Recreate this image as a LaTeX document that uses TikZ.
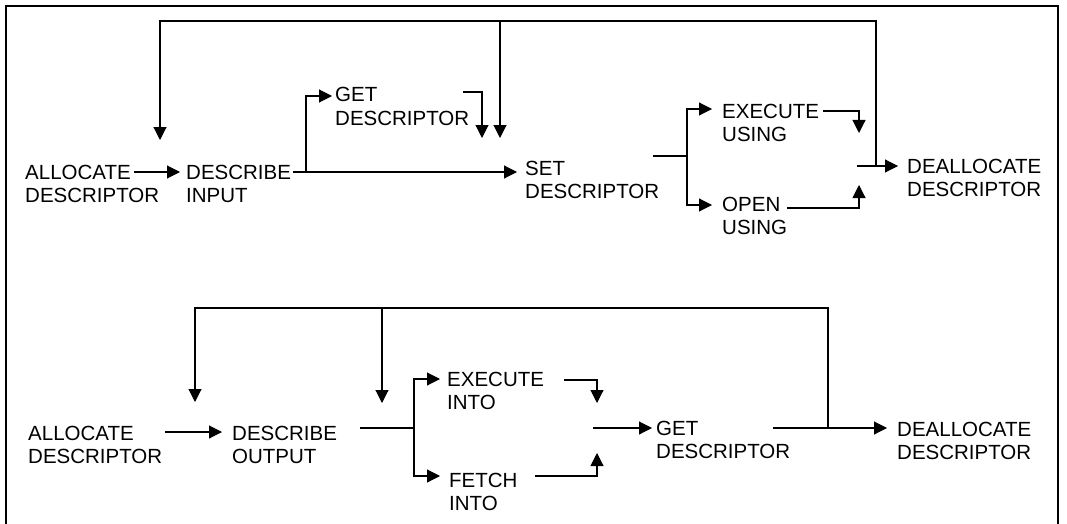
\documentclass[tikz,border=0pt]{standalone}
\usepackage{fontspec}
\setmainfont{Liberation Sans}
\usetikzlibrary{arrows.meta}
\newcommand{\twol}[2]{\begin{tabular}[t]{@{}l@{}}#1\\#2\end{tabular}}
\begin{document}
\begin{tikzpicture}[x=1pt,y=-1pt,
  lbl/.style={anchor=base west,inner sep=0pt,font=\fontsize{20.5}{23.5}\selectfont},
  conn/.style={line width=1.1pt},
  arr/.style={conn,-{Triangle[length=13pt,width=13pt]}},
  frame/.style={line width=1.4pt}]
\useasboundingbox (0,0) rectangle (1067,524);
\draw[frame] (6,524) -- (6,6) -- (1058,6) -- (1058,524);
% ---------- top flow ----------
\node[lbl] (alloc1)   at (25,179)  {\twol{ALLOCATE}{DESCRIPTOR}};
\node[lbl] (descin)   at (186,179) {\twol{DESCRIBE}{INPUT}};
\node[lbl] (getd1)    at (335,102) {\twol{GET}{DESCRIPTOR}};
\node[lbl] (setd)     at (525,175) {\twol{SET}{DESCRIPTOR}};
\node[lbl] (exu)      at (722,118) {\twol{EXECUTE}{USING}};
\node[lbl] (opu)      at (722,211) {\twol{OPEN}{USING}};
\node[lbl] (dealloc1) at (907,173) {\twol{DEALLOCATE}{DESCRIPTOR}};
\coordinate (tA) at (160,140);
\coordinate (tB) at (482,138);
\coordinate (tC) at (500,138);
\coordinate (tD) at (859,133);
\coordinate (tE) at (859,185);
\coordinate (jA) at (876,166);
\coordinate (jB) at (500,21);
\coordinate (jC) at (687,156);
\draw[arr] ([shift={(109,-7)}]alloc1.base west) -- ([shift={(-6,-7)}]descin.base west);
\draw[arr] ([shift={(107,-7)}]descin.base west) -- ([shift={(-8,-3)}]setd.base west);
\draw[arr] ([shift={(120,-7)}]descin.base west) |- ([shift={(-3,-6)}]getd1.base west);
\draw[arr] ([shift={(128,-10)}]getd1.base west) -| (tB);
\draw[arr] ([shift={(128,-19)}]setd.base west) -- (jC) |- ([shift={(-10,-9)}]exu.base west);
\draw[arr] (jC) |- ([shift={(-10,-6)}]opu.base west);
\draw[arr] ([shift={(101,-7)}]exu.base west) -| (tD);
\draw[arr] ([shift={(65,-3)}]opu.base west) -| (tE);
\draw[arr] ([shift={(-50,-7)}]dealloc1.base west) -- ([shift={(-9,-7)}]dealloc1.base west);
\draw[arr] (jA) |- (jB) -| (tA);
\draw[arr] (jB) -- (tC);
% ---------- bottom flow ----------
\node[lbl] (alloc2)   at (28,440)  {\twol{ALLOCATE}{DESCRIPTOR}};
\node[lbl] (descout)  at (232,440) {\twol{DESCRIBE}{OUTPUT}};
\node[lbl] (exi)      at (447,386) {\twol{EXECUTE}{INTO}};
\node[lbl] (fei)      at (449,487) {\twol{FETCH}{INTO}};
\node[lbl] (getd2)    at (656,435) {\twol{GET}{DESCRIPTOR}};
\node[lbl] (dealloc2) at (897,436) {\twol{DEALLOCATE}{DESCRIPTOR}};
\coordinate (tF) at (195,402);
\coordinate (tG) at (382,403);
\coordinate (tH) at (597,403);
\coordinate (tI) at (597,453);
\coordinate (jD) at (828,428);
\coordinate (jE) at (382,308);
\coordinate (jF) at (414,428);
\draw[arr] ([shift={(137,-8)}]alloc2.base west) -- ([shift={(-10,-8)}]descout.base west);
\draw[arr] ([shift={(128,-12)}]descout.base west) -- (jF) |- ([shift={(-7,-7)}]exi.base west);
\draw[arr] (jF) |- ([shift={(-9,-11)}]fei.base west);
\draw[arr] ([shift={(117,-6)}]exi.base west) -| (tH);
\draw[arr] ([shift={(86,-11)}]fei.base west) -| (tI);
\draw[arr] ([shift={(-63,-7)}]getd2.base west) -- ([shift={(-4,-7)}]getd2.base west);
\draw[arr] ([shift={(117,-7)}]getd2.base west) -- ([shift={(-10,-8)}]dealloc2.base west);
\draw[arr] (jD) |- (jE) -| (tF);
\draw[arr] (jE) -- (tG);
\end{tikzpicture}
\end{document}
